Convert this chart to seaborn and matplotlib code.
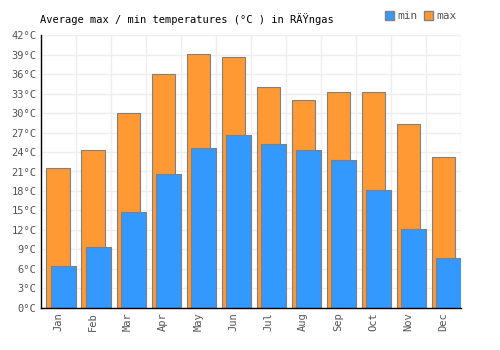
import matplotlib
matplotlib.use("Agg")
import matplotlib.pyplot as plt
from matplotlib.patches import Patch
import seaborn as sns
import pandas as pd
import numpy as np

months = ["Jan", "Feb", "Mar", "Apr", "May", "Jun",
          "Jul", "Aug", "Sep", "Oct", "Nov", "Dec"]
t_max = [21.6, 24.3, 30.1, 36.0, 39.1, 38.6, 34.0, 32.1, 33.2, 33.2, 28.3, 23.3]
t_min = [6.5, 9.3, 14.7, 20.6, 24.6, 26.7, 25.3, 24.3, 22.7, 18.1, 12.2, 7.6]
y_ticks = list(range(0, 43, 3))

df = pd.DataFrame({"month": months, "max": t_max, "min": t_min})

c_max = "#ff9933"
c_min = "#3399ff"
edge = "#808080"
txt = "#555555"

sns.set_theme(style="white")
plt.rcParams["font.family"] = ["DejaVu Sans Mono", "DejaVu Sans"]

fig = plt.figure(figsize=(5, 3.5), dpi=100)
ax = fig.add_axes([0.081, 0.121, 0.841, 0.778])

sns.barplot(data=df, x="month", y="max", color=c_max, width=0.66,
            edgecolor=edge, linewidth=0.8, saturation=1, ax=ax)
n = len(ax.patches)
sns.barplot(data=df, x="month", y="min", color=c_min, width=0.70,
            edgecolor=edge, linewidth=0.8, saturation=1, ax=ax)
# min bars sit a bit to the right of the max bars
for p in ax.patches[n:]:
    p.set_x(p.get_x() + 0.15)

ax.set_xlim(-0.5, 11.5)
ax.set_ylim(0, 42)
ax.set_yticks(y_ticks)
ax.set_yticklabels([f"{v}°C" for v in y_ticks], color=txt, fontsize=7.5)
ax.set_xticks(range(12))
ax.set_xticklabels(months, rotation=90, color=txt, fontsize=7.5)
ax.set_xticks(np.arange(0.5, 12, 1), minor=True)
ax.tick_params(axis="both", which="both", length=0, pad=3)
ax.grid(axis="y", which="major", color="#eeeeee", linewidth=1)
ax.grid(axis="x", which="minor", color="#eeeeee", linewidth=1)
ax.grid(axis="x", which="major", visible=False)
ax.set_axisbelow(True)
ax.set_xlabel("")
ax.set_ylabel("")

for s in ["top", "right"]:
    ax.spines[s].set_visible(False)
for s in ["left", "bottom"]:
    ax.spines[s].set_color("black")
    ax.spines[s].set_linewidth(1)

fig.text(0.08, 0.945, "Average max / min temperatures (°C ) in RÄŸngas",
         fontsize=7.5, color="black", va="center")

handles = [Patch(facecolor=c_min, edgecolor=edge, label="min"),
           Patch(facecolor=c_max, edgecolor=edge, label="max")]
ax.legend(handles=handles, loc="center right", bbox_to_anchor=(1.0, 1.07),
          ncol=2, frameon=False, handlelength=0.8, handleheight=0.8,
          handletextpad=0.3, columnspacing=0.6, borderaxespad=0,
          labelcolor=txt, prop={"size": 8})

fig.savefig("out.png", dpi=100)
